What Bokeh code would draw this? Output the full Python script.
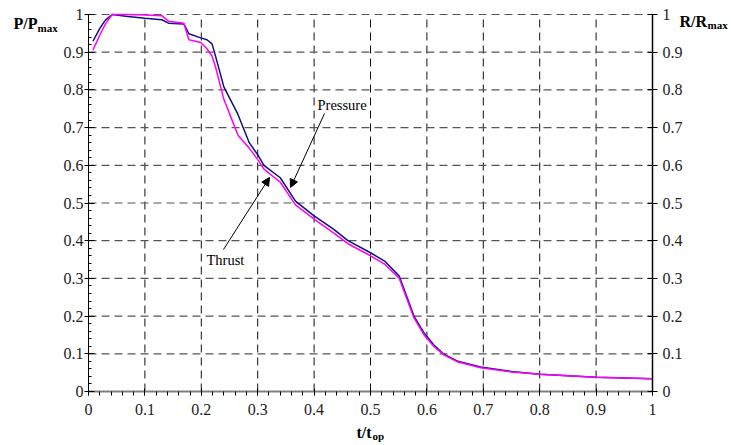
from bokeh.plotting import figure
from bokeh.models import LinearAxis, FixedTicker, Range1d, Label, Arrow, NormalHead
from bokeh.embed import file_html
from bokeh.resources import INLINE

# ---- data ----
t_rel = [0.008, 0.02, 0.03, 0.042, 0.07, 0.1, 0.13, 0.142, 0.169, 0.178, 0.199, 0.21,
         0.219, 0.225, 0.24, 0.265, 0.285, 0.3, 0.311, 0.34, 0.367, 0.4, 0.435, 0.46,
         0.5, 0.525, 0.551, 0.577, 0.595, 0.612, 0.63, 0.655, 0.695, 0.75, 0.8, 0.9, 1.0]
pressure = [0.929, 0.963, 0.985, 1.0, 0.995, 0.990, 0.986, 0.977, 0.975, 0.949, 0.938, 0.933,
            0.922, 0.891, 0.808, 0.735, 0.660, 0.628, 0.600, 0.567, 0.505, 0.466, 0.430, 0.400,
            0.368, 0.346, 0.306, 0.200, 0.155, 0.124, 0.099, 0.080, 0.065, 0.053, 0.046, 0.038, 0.034]
thrust = [0.906, 0.945, 0.975, 1.0, 1.0, 0.999, 0.997, 0.982, 0.977, 0.933, 0.926, 0.909,
          0.890, 0.862, 0.775, 0.680, 0.645, 0.615, 0.590, 0.555, 0.495, 0.457, 0.420, 0.392,
          0.360, 0.338, 0.300, 0.195, 0.150, 0.120, 0.097, 0.078, 0.063, 0.052, 0.046, 0.038, 0.034]
tick_values = [0.0, 0.1, 0.2, 0.3, 0.4, 0.5, 0.6, 0.7, 0.8, 0.9, 1.0]
tick_labels = ["0", "0.1", "0.2", "0.3", "0.4", "0.5", "0.6", "0.7", "0.8", "0.9", "1"]
minor_values = [i / 50 for i in range(51)]

FONT = "Liberation Serif"
overrides = {v: s for v, s in zip(tick_values, tick_labels)}

# canvas geometry: the plot area spans the whole canvas; axes sit at fixed data locations
W, H = 731, 445
PX0, PX1, PY0, PY1 = 88, 652, 391, 14      # pixel positions of x=0, x=1, y=0, y=1
sx = PX1 - PX0
sy = PY0 - PY1
p = figure(width=W, height=H, output_backend="svg", toolbar_location=None,
           x_range=Range1d(-PX0 / sx, (W - PX0) / sx),
           y_range=Range1d((PY0 - H) / sy, PY0 / sy),
           x_axis_type=None, y_axis_type=None,
           min_border_left=0, min_border_right=0, min_border_top=0, min_border_bottom=0)
p.outline_line_color = None
p.background_fill_color = "white"
p.border_fill_color = "white"
p.xgrid.visible = False
p.ygrid.visible = False

ticker = FixedTicker(ticks=tick_values, minor_ticks=minor_values)
ticker_major = FixedTicker(ticks=tick_values)

# grid lines (dashed), drawn at the tick values inside the unit square
inner_x = tick_values[1:-1]
p.segment(x0=inner_x, y0=[0] * len(inner_x), x1=inner_x, y1=[1] * len(inner_x),
          line_color="#111111", line_dash="8 5", line_width=1)
inner_y = tick_values[1:]
p.segment(x0=[0] * len(inner_y), y0=inner_y, x1=[1] * len(inner_y), y1=inner_y,
          line_color="#555555", line_dash="8 5", line_width=1.2)

# bottom axis
xa = LinearAxis(ticker=ticker, fixed_location=0, bounds=(0, 1))
xa.axis_line_color = "#808080"
xa.axis_line_width = 2
xa.major_tick_in = 3
xa.major_tick_out = 4
xa.minor_tick_in = 0
xa.minor_tick_out = 4
xa.major_label_standoff = 8
xa.major_label_overrides = overrides
p.add_layout(xa, "below")

# left axis
ya = LinearAxis(ticker=ticker, fixed_location=0, bounds=(0, 1))
ya.axis_line_color = "black"
ya.major_tick_in = 6
ya.major_tick_out = 4
ya.minor_tick_in = 3
ya.minor_tick_out = 0
ya.major_label_standoff = 1
ya.major_label_overrides = overrides
p.add_layout(ya, "left")

# right axis
ra = LinearAxis(ticker=ticker_major, fixed_location=1, bounds=(0, 1))
ra.axis_line_color = "black"
ra.axis_line_width = 1.5
ra.major_tick_in = 5
ra.major_tick_out = 5
ra.minor_tick_line_color = None
ra.major_label_standoff = 5
ra.major_label_overrides = overrides
p.add_layout(ra, "right")

for ax in (xa, ya, ra):
    ax.major_label_text_font = FONT
    ax.major_label_text_font_size = "16px"
    ax.major_label_text_color = "#222222"

p.line(t_rel, pressure, line_color="#101080", line_width=1.5)
p.line(t_rel, thrust, line_color="#ff00ff", line_width=1.5)

DY = 6  # labels render slightly below their nominal baseline

def px_x(px):
    return (px - PX0) / sx

def px_y(py):
    return (PY0 - py) / sy

def lab(px, py, text, size, bold=False):
    p.add_layout(Label(x=px_x(px), y=px_y(py - DY), text=text, text_font=FONT,
                       text_font_size=size, text_font_style="bold" if bold else "normal",
                       text_align="left", text_baseline="alphabetic", text_color="black"))

# axis titles (with subscripts)
lab(13, 29, "P/P", "16px", True)
lab(37, 33, "max", "11px", True)
lab(679, 27, "R/R", "16px", True)
lab(707, 30.5, "max", "11px", True)
lab(356, 438, "t/t", "16px", True)
lab(372, 441, "op", "11px", True)

# annotations
lab(317, 110.5, "Pressure", "14.5px")
lab(206, 265, "Thrust", "14.5px")
p.add_layout(Arrow(end=NormalHead(size=8, fill_color="black", line_color="black"),
                   x_start=px_x(324), y_start=px_y(113), x_end=px_x(290), y_end=px_y(187),
                   line_color="black", line_width=1))
p.add_layout(Arrow(end=NormalHead(size=8, fill_color="black", line_color="black"),
                   x_start=px_x(223), y_start=px_y(249), x_end=px_x(269), y_end=px_y(177),
                   line_color="black", line_width=1))

open("out.html", "w").write(file_html(p, INLINE))
